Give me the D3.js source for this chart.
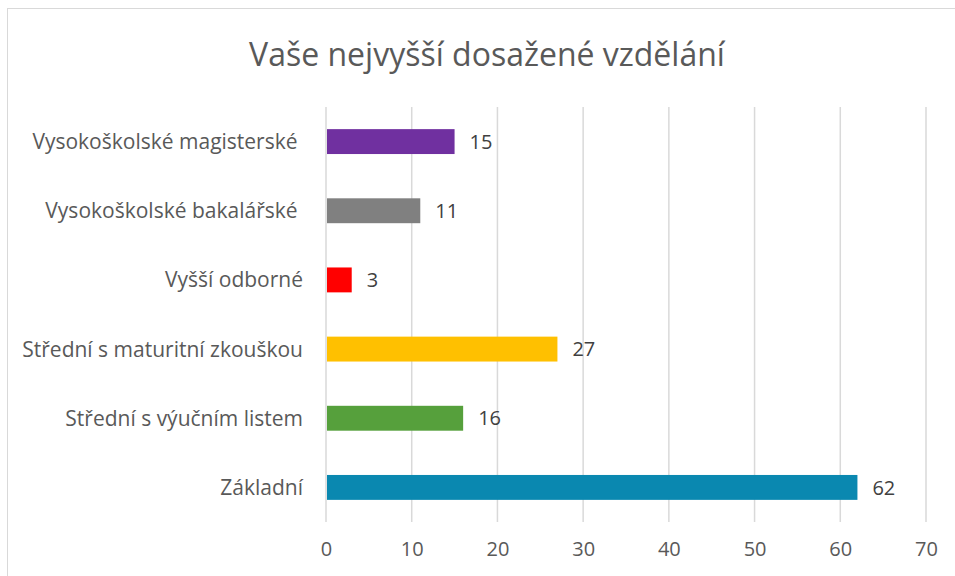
<!DOCTYPE html>
<html>
<head>
<meta charset="utf-8">
<script src="https://cdn.jsdelivr.net/npm/d3@7"></script>
<style>
  body { margin: 0; background: #fff; }
  text { font-family: "Open Sans", sans-serif; white-space: pre; }
</style>
</head>
<body>
<svg id="chart" width="955" height="576"></svg>
<script>
// chart data, top to bottom as drawn
const categories = ["Vysokoškolské magisterské ", "Vysokoškolské bakalářské ", "Vyšší odborné",
  "Střední s maturitní zkouškou", "Střední s výučním listem", "Základní"];
const counts = [15, 11, 3, 27, 16, 62];
const barColors = ["#7030a0", "#808080", "#ff0000", "#ffc000", "#56a03c", "#0a88b0"];
const xTicks = [0, 10, 20, 30, 40, 50, 60, 70];
const chartTitle = "Vaše nejvyšší dosažené vzdělání";

const svg = d3.select("#chart");
const width = 955, height = 576;
const plot = {left: 326, right: 926, top: 107, bottom: 522};

// outer chart border
svg.append("rect")
  .attr("x", 7.5).attr("y", 8.5)
  .attr("width", 960).attr("height", 600)
  .attr("fill", "none")
  .attr("stroke", "#d9d9d9")
  .attr("stroke-width", 1);

svg.append("text")
  .attr("x", 487).attr("y", 66)
  .attr("text-anchor", "middle")
  .attr("font-size", 32)
  .attr("fill", "#595959")
  .text(chartTitle);

const x = d3.scaleLinear().domain([0, 70]).range([plot.left, plot.right]);
const y = d3.scaleBand().domain(categories).range([plot.top, plot.bottom]).paddingInner(0.64).paddingOuter(0.32);

// gridlines
svg.append("g").selectAll("line")
  .data(xTicks)
  .join("line")
  .attr("x1", d => x(d)).attr("x2", d => x(d))
  .attr("y1", plot.top).attr("y2", plot.bottom)
  .attr("stroke", "#d9d9d9")
  .attr("stroke-width", 1.5);

// bars
svg.append("g").selectAll("rect")
  .data(categories)
  .join("rect")
  .attr("x", x(0) + 1)
  .attr("y", d => y(d))
  .attr("width", (d, i) => x(counts[i]) - x(0) - 1)
  .attr("height", y.bandwidth())
  .attr("fill", (d, i) => barColors[i]);

// value labels
svg.append("g").selectAll("text")
  .data(categories)
  .join("text")
  .attr("x", (d, i) => x(counts[i]) + 15)
  .attr("y", d => y(d) + y.bandwidth() / 2)
  .attr("dy", "0.36em")
  .attr("font-size", 20)
  .attr("fill", "#404040")
  .text((d, i) => counts[i]);

// category labels
svg.append("g").selectAll("text")
  .data(categories)
  .join("text")
  .attr("x", 303)
  .attr("y", d => y(d) + y.bandwidth() / 2)
  .attr("dy", "0.36em")
  .attr("text-anchor", "end")
  .attr("font-size", 21)
  .attr("fill", "#595959")
  .text(d => d);

// x axis
const xAxis = svg.append("g")
  .attr("transform", `translate(0,${plot.bottom})`)
  .call(d3.axisBottom(x).tickValues(xTicks).tickSize(0).tickPadding(20));
xAxis.select(".domain").remove();
xAxis.selectAll("text")
  .attr("font-size", 20)
  .attr("font-family", "Open Sans, sans-serif")
  .attr("fill", "#595959");
</script>
</body>
</html>
